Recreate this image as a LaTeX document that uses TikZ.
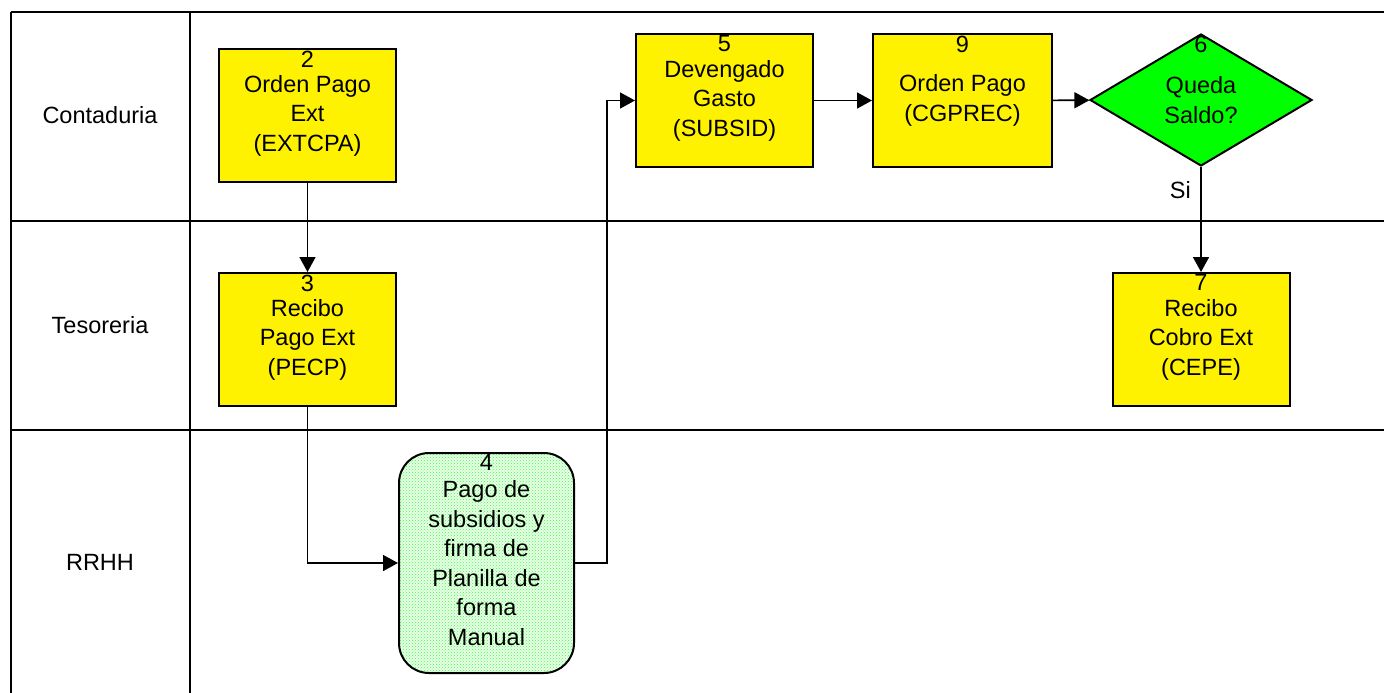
\documentclass[tikz,border=0pt]{standalone}
\usepackage{fontspec}
\setmainfont{Liberation Sans}
\usetikzlibrary{arrows.meta,shapes.geometric,patterns}

\begin{document}
\begin{tikzpicture}[x=1pt,y=-1pt,
	every node/.style={font=\fontsize{23.5}{29.5}\selectfont},
	lane/.style={line width=1.5pt},
	proc/.style={draw,line width=2pt,fill=yellow,minimum width=177pt,minimum height=133pt,align=center,inner sep=0pt},
	num/.style={anchor=north,inner sep=2.5pt},
	flow/.style={line width=1.6pt,-{Triangle[length=15pt,width=16pt]}}]
		\def\W{1384}
		\def\H{693}
		\useasboundingbox (0,0) rectangle (\W,\H);
		% lanes
		\foreach \y in {12,221,430} \draw[lane] (11,\y)--(\W,\y);
		\foreach \x in {11,190} \draw[lane] (\x,12)--(\x,\H);
		\path
		(100,115) node (lc) {Contaduria}
		(100,325) node (lt) {Tesoreria}
		(100,562) node (lr) {RRHH};
		% steps
		\node[proc,label={[num]north:2}] (b2) at (307.5,115.5) {Orden Pago\\Ext\\(EXTCPA)};
		\node[proc,label={[num]north:3}] (b3) at (307.5,339.5) {Recibo\\Pago Ext\\(PECP)};
		\node[proc,fill=none,rounded corners=30pt,minimum width=175pt,minimum height=220pt,
			preaction={fill=green!8},pattern=crosshatch dots,pattern color=green!75,
			label={[num]north:4}] (b4) at (486.5,563) {Pago de\\subsidios y\\firma de\\Planilla de\\forma\\Manual};
		\node[proc,label={[num]north:5}] (b5) at (724.5,100.5) {Devengado\\Gasto\\(SUBSID)};
		\node[proc,minimum width=179pt,label={[num]north:9}] (b9) at (962.5,100.5) {Orden Pago\\(CGPREC)};
		\node[draw,diamond,line width=2pt,fill=green,aspect=1.7,inner sep=1pt,align=center,
			minimum width=222pt,minimum height=132pt,label={[num]north:6}] (d6) at (1201,100) {Queda\\Saldo?};
		\node[proc,label={[num]north:7}] (b7) at (1201,339.5) {Recibo\\Cobro Ext\\(CEPE)};
		% flows
		\draw[flow] (b2)--(b3);
		\draw[flow] (b3.south) |- (b4.west);
		\draw[flow] (b4.east)--++(32,0) |- (b5.west);
		\draw[flow] (b5)--(b9);
		\draw[flow] (b9)--(d6);
		\draw[flow] (d6.south)--node[pos=.22,left,xshift=-6pt]{Si} (b7.north);
	\end{tikzpicture}
\end{document}
